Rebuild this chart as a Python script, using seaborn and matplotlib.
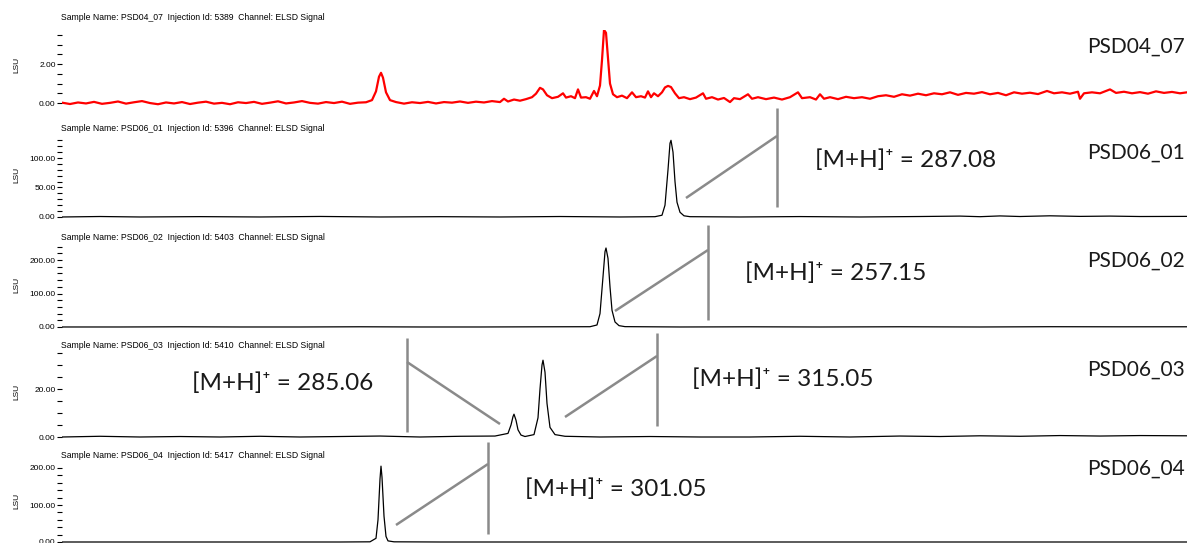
import matplotlib
matplotlib.use("Agg")
import matplotlib.pyplot as plt
from matplotlib.ticker import MultipleLocator, FormatStrFormatter, NullLocator
import seaborn as sns

# ---------------- data (time in min, signal in LSU) ----------------
samples = ["PSD04_07", "PSD06_01", "PSD06_02", "PSD06_03", "PSD06_04"]
injection_ids = ["5389", "5396", "5403", "5410", "5417"]

red_time = [0.62, 0.70, 0.78, 0.86, 0.94, 1.02, 1.10, 1.18, 1.26, 1.34, 1.42, 1.50, 1.58, 1.66,
            1.74, 1.82, 1.90, 1.98, 2.06, 2.14, 2.22, 2.30, 2.38, 2.46, 2.54, 2.62, 2.70, 2.78,
            2.86, 2.94, 3.02, 3.10, 3.18, 3.26, 3.34, 3.42, 3.50, 3.58, 3.66, 3.72, 3.76, 3.79,
            3.81, 3.83, 3.86, 3.90, 3.96, 4.04, 4.12, 4.20, 4.28, 4.36, 4.44, 4.52, 4.60, 4.68,
            4.76, 4.84, 4.92, 5.00, 5.04, 5.08, 5.14, 5.20, 5.26, 5.32, 5.36, 5.40, 5.43, 5.47,
            5.52, 5.58, 5.63, 5.66, 5.71, 5.75, 5.78, 5.81, 5.86, 5.90, 5.94, 5.97, 6.00, 6.02,
            6.04, 6.06, 6.08, 6.10, 6.13, 6.17, 6.22, 6.27, 6.32, 6.36, 6.41, 6.45, 6.48, 6.51,
            6.54, 6.58, 6.62, 6.65, 6.68, 6.71, 6.75, 6.79, 6.84, 6.90, 6.96, 7.03, 7.06, 7.12,
            7.18, 7.24, 7.30, 7.34, 7.40, 7.48, 7.52, 7.58, 7.66, 7.74, 7.82, 7.90, 7.98, 8.02,
            8.10, 8.16, 8.20, 8.24, 8.30, 8.38, 8.46, 8.54, 8.62, 8.70, 8.78, 8.86, 8.94, 9.02,
            9.10, 9.18, 9.26, 9.34, 9.42, 9.50, 9.58, 9.66, 9.74, 9.82, 9.90, 9.98, 10.06, 10.14,
            10.22, 10.30, 10.38, 10.47, 10.54, 10.62, 10.70, 10.78, 10.80, 10.84, 10.92, 11.00,
            11.10, 11.16, 11.24, 11.32, 11.40, 11.48, 11.56, 11.64, 11.72, 11.80, 11.87]
red_signal = [0.02, -0.05, 0.03, -0.02, 0.06, -0.04, 0.01, 0.08, -0.03, 0.04, 0.10, 0.00, -0.06, 0.03,
              -0.02, 0.05, -0.05, 0.02, 0.07, -0.03, 0.01, -0.06, 0.04, 0.00, 0.06, -0.04, 0.02, 0.09,
              -0.02, 0.03, 0.10, 0.01, -0.03, 0.05, 0.00, 0.07, -0.04, 0.02, 0.04, 0.15, 0.60, 1.35,
              1.55, 1.30, 0.55, 0.15, 0.05, -0.03, 0.04, 0.00, 0.06, -0.02, 0.05, 0.02, 0.08, 0.01,
              0.07, 0.03, 0.10, 0.05, 0.22, 0.08, 0.18, 0.12, 0.20, 0.30, 0.48, 0.78, 0.70, 0.40,
              0.25, 0.32, 0.50, 0.28, 0.35, 0.25, 0.70, 0.28, 0.30, 0.22, 0.62, 0.35, 0.90, 2.20,
              3.75, 3.60, 2.30, 1.00, 0.45, 0.30, 0.38, 0.25, 0.55, 0.30, 0.35, 0.28, 0.60, 0.30,
              0.50, 0.35, 0.55, 0.80, 0.88, 0.82, 0.50, 0.25, 0.30, 0.20, 0.28, 0.50, 0.22, 0.30,
              0.18, 0.26, 0.05, 0.25, 0.20, 0.45, 0.22, 0.30, 0.20, 0.28, 0.18, 0.30, 0.55, 0.25,
              0.30, 0.18, 0.45, 0.22, 0.30, 0.20, 0.32, 0.25, 0.30, 0.22, 0.35, 0.40, 0.32, 0.45,
              0.38, 0.48, 0.40, 0.50, 0.45, 0.55, 0.42, 0.52, 0.48, 0.56, 0.45, 0.52, 0.40, 0.55,
              0.48, 0.53, 0.46, 0.62, 0.50, 0.55, 0.48, 0.58, 0.22, 0.50, 0.55, 0.50,
              0.70, 0.52, 0.58, 0.50, 0.56, 0.48, 0.60, 0.52, 0.57, 0.50, 0.55]

b1_time = [0.62, 1.00, 1.40, 2.00, 2.60, 3.20, 3.80, 4.40, 5.00, 5.60, 6.20, 6.55, 6.62, 6.65,
           6.68, 6.70, 6.71, 6.73, 6.75, 6.77, 6.80, 6.84, 6.90, 7.40, 8.00, 8.60, 9.20, 9.60,
           9.80, 10.00, 10.20, 10.50, 10.80, 11.10, 11.40, 11.87]
b1_signal = [0.0, 0.8, 0.0, 0.6, 0.0, 0.9, 0.0, 0.5, 0.0, 0.8, 0.0, 0.5, 3.0, 20.0,
             80.0, 125.0, 130.0, 110.0, 60.0, 25.0, 8.0, 2.0, 0.5, 0.0, 0.7, 0.0, 0.8, 1.5,
             0.5, 1.8, 0.8, 2.0, 1.0, 1.5, 0.8, 1.0]

b2_time = [0.62, 1.20, 1.80, 2.40, 3.00, 3.60, 4.20, 4.80, 5.40, 5.90, 5.97, 6.00, 6.03,
           6.05, 6.06, 6.08, 6.10, 6.12, 6.15, 6.19, 6.25, 6.80, 7.50, 8.20, 9.00, 9.80,
           10.50, 11.20, 11.87]
b2_signal = [0.0, 0.0, 0.5, 0.0, 0.0, 0.6, 0.0, 0.0, 0.5, 0.8, 6.0, 40.0, 150.0,
             225.0, 236.0, 205.0, 120.0, 50.0, 15.0, 4.0, 1.0, 0.0, 0.5, 0.0, 0.6, 0.0,
             0.8, 0.5, 0.6]

b3_time = [0.62, 1.00, 1.40, 1.80, 2.20, 2.60, 3.00, 3.40, 3.80, 4.20, 4.60, 4.95, 5.08, 5.11,
           5.13, 5.14, 5.16, 5.18, 5.21, 5.25, 5.34, 5.38, 5.40, 5.42, 5.43, 5.45, 5.47, 5.50,
           5.55, 5.65, 6.00, 6.50, 7.00, 7.50, 8.00, 8.50, 9.00, 9.40, 9.80, 10.20, 10.60,
           11.00, 11.40, 11.87]
b3_signal = [0.0, 0.3, 0.0, 0.2, 0.0, 0.3, 0.0, 0.2, 0.4, 0.0, 0.3, 0.4, 1.5, 5.0,
             8.5, 9.5, 7.0, 3.0, 0.8, 0.2, 1.0, 8.0, 20.0, 30.0, 32.0, 27.0, 14.0, 4.0,
             1.0, 0.3, 0.0, 0.2, 0.0, 0.0, 0.3, 0.0, 0.4, 0.2, 0.5, 0.3, 0.6,
             0.4, 0.6, 0.5]

b4_time = [0.62, 1.50, 2.50, 3.40, 3.70, 3.76, 3.78, 3.80, 3.81, 3.82, 3.84, 3.86, 3.88,
           3.94, 4.40, 5.50, 6.50, 7.50, 8.50, 9.50, 10.50, 11.87]
b4_signal = [0.0, 0.0, 0.0, 0.0, 0.5, 10.0, 60.0, 170.0, 205.0, 175.0, 70.0, 15.0, 3.0,
             0.5, 0.0, 0.0, 0.0, 0.0, 0.0, 0.0, 0.0, 0.0]

traces = [(red_time, red_signal), (b1_time, b1_signal), (b2_time, b2_signal),
          (b3_time, b3_signal), (b4_time, b4_signal)]
trace_colors = ["#ff0000", "black", "black", "black", "black"]
trace_widths = [1.6, 0.9, 0.9, 0.9, 0.9]

y_limits = [(-0.3, 3.75), (-8, 138), (-15, 245), (-2, 36), (-10, 210)]
major_steps = [2.0, 50.0, 100.0, 20.0, 100.0]
minor_steps = [0.5, 10.0, 20.0, 5.0, 20.0]

mass_labels = ["[M+H]\u207a = 287.08", "[M+H]\u207a = 257.15", "[M+H]\u207a = 285.06",
               "[M+H]\u207a = 315.05", "[M+H]\u207a = 301.05"]

# ---------------- layout (pixels) ----------------
W, H = 1187, 543
ax_px = [(29.9, 108.9), (135.6, 221.7), (245.0, 332.0), (350.6, 441.8), (464.3, 545.7)]
header_y = [18, 128, 237, 346, 456]
name_y = [47, 153, 261, 370, 469]
mass_pos = [(815, 160), (745, 273), (192, 383), (692, 379), (525, 489)]
# structure fragments (grey strokes), pixel coords
fragments = [
    [(777, 108), (777, 207)], [(686, 198), (777, 136)],
    [(708, 225), (708, 320)], [(615, 311), (708, 250)],
    [(407, 338), (407, 432)], [(407, 362), (500, 424)],
    [(657, 333), (657, 426)], [(565, 417), (657, 356)],
    [(488, 442), (488, 534)], [(396, 525), (488, 464)],
]

sns.set_theme(style="white")
plt.rcParams["font.family"] = ["Liberation Sans", "DejaVu Sans"]

fig = plt.figure(figsize=(W / 100, H / 100), dpi=100)
fig.patch.set_facecolor("white")

left = 62 / W
width = (W - 62) / W + 0.01

for i, (t, s) in enumerate(traces):
    top, bot = ax_px[i]
    ax = fig.add_axes([left, 1 - bot / H, width, (bot - top) / H])
    ax.set_facecolor("none")
    sns.lineplot(x=t, y=s, ax=ax, color=trace_colors[i], linewidth=trace_widths[i],
                 estimator=None, sort=False)
    ax.set_xlim(0.62, 11.87 + 0.01 * W / 100)
    ax.set_ylim(*y_limits[i])
    for sp in ax.spines.values():
        sp.set_visible(False)
    ax.xaxis.set_major_locator(NullLocator())
    ax.yaxis.set_major_locator(MultipleLocator(major_steps[i]))
    ax.yaxis.set_minor_locator(MultipleLocator(minor_steps[i]))
    ax.yaxis.set_major_formatter(FormatStrFormatter("%.2f"))
    ax.tick_params(axis="y", which="both", direction="out", length=3.5, width=0.8,
                   color="black", left=True, labelsize=6, pad=1, labelcolor="black")
    ax.set_xlabel("")
    ax.set_ylabel("")
    ax.grid(False)

    fig.text(61 / W, 1 - header_y[i] / H,
             f"Sample Name: {samples[i]}  Injection Id: {injection_ids[i]}  Channel: ELSD Signal",
             fontsize=6.2, ha="left", va="center", color="black")
    fig.text(17 / W, 1 - ((top + bot) / 2 - 4) / H, "LSU", rotation=90, fontsize=6,
             ha="center", va="center", color="black")
    fig.text(1185 / W, 1 - name_y[i] / H, samples[i], fontsize=15, ha="right", va="center",
             color="#1a1a1a", family=["Lato", "DejaVu Sans"])

for lbl, (x, y) in zip(mass_labels, mass_pos):
    fig.text(x / W, 1 - y / H, lbl, fontsize=17.5, ha="left", va="center",
             color="#1a1a1a", family=["Lato", "DejaVu Sans"])

for (x0, y0), (x1, y1) in fragments:
    fig.add_artist(plt.Line2D([x0 / W, x1 / W], [1 - y0 / H, 1 - y1 / H],
                              transform=fig.transFigure, color="#8a8a8a", linewidth=1.8,
                              solid_capstyle="butt"))

fig.savefig("out.png", dpi=100, facecolor="white")
